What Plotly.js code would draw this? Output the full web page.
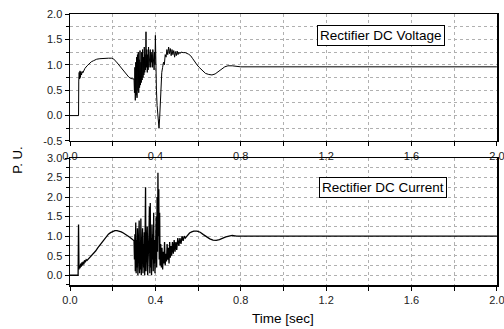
<!DOCTYPE html>
<html><head><meta charset="utf-8">
<script src="https://cdn.plot.ly/plotly-3.0.1.min.js"></script>
<style>html,body{margin:0;padding:0;background:#fff}#chart{width:504px;height:329px}</style>
</head><body><div id="chart"></div>
<script>
// Rectifier DC Voltage (top panel)
var timeV = [0,0.040,0.041,0.043,0.045,0.047,0.049,0.051,0.054,0.057,0.060,0.065,0.070,0.080,0.090,0.100,0.110,0.125,0.140,0.160,0.180,0.195,0.205,0.215,0.225,0.235,0.245,0.255,0.265,0.275,0.285,0.295,0.300,
0.302,0.304,0.306,0.308,0.310,0.312,0.314,0.316,0.318,0.320,0.322,0.324,0.326,0.328,0.330,0.332,0.334,0.336,0.338,0.340,0.342,0.344,0.346,0.348,0.350,0.352,0.354,0.356,0.358,0.360,0.362,0.364,0.366,0.368,0.370,0.372,0.374,0.376,0.378,0.380,0.382,0.384,0.386,0.388,0.390,0.392,0.394,0.396,0.398,0.400,0.402,0.405,0.408,0.411,0.414,0.417,0.420,0.423,0.426,0.430,0.434,0.438,0.442,0.446,0.450,0.454,0.458,0.462,0.466,0.470,0.474,0.478,0.482,0.486,0.490,0.494,0.498,0.502,0.506,0.510,0.515,0.520,0.530,0.540,0.555,0.565,0.575,0.585,0.595,0.605,0.620,0.635,0.650,0.665,0.680,0.695,0.710,0.725,0.740,0.760,0.800,1.000,1.500,2.000];
var voltage = [0,0,0.68,0.85,0.72,0.88,0.75,0.86,0.80,0.87,0.84,0.90,0.93,0.98,1.03,1.06,1.08,1.11,1.12,1.13,1.13,1.13,1.11,1.07,1.02,0.97,0.91,0.85,0.80,0.76,0.73,0.72,0.72,
0.45,0.95,0.30,1.05,0.40,1.15,0.35,1.20,0.50,1.25,0.45,1.10,0.55,1.28,0.60,1.05,0.65,1.25,0.70,1.30,0.75,1.15,0.80,1.35,0.85,1.20,0.90,1.65,0.95,1.30,0.85,1.20,0.90,1.35,0.95,1.15,1.00,1.30,0.95,1.25,1.05,1.20,0.95,1.30,1.05,1.15,0.90,1.25,1.00,1.58,0.95,0.50,0.20,0.00,-0.15,-0.25,-0.05,0.35,0.60,0.85,0.95,1.05,1.00,1.20,1.15,1.30,1.20,1.35,1.22,1.32,1.18,1.30,1.20,1.28,1.15,1.26,1.18,1.27,1.20,1.25,1.22,1.25,1.24,1.24,1.21,1.18,1.12,1.05,1.00,0.95,0.88,0.83,0.81,0.80,0.82,0.87,0.92,0.96,0.98,0.98,0.96,0.96,0.96,0.96];

// Rectifier DC Current (bottom panel)
var timeI = [0,0.038,0.040,0.042,0.044,0.047,0.050,0.053,0.056,0.059,0.062,0.065,0.068,0.072,0.076,0.080,0.090,0.100,0.110,0.120,0.130,0.140,0.150,0.160,0.170,0.180,0.190,0.200,0.210,0.220,0.230,0.240,0.250,0.260,0.270,0.280,0.290,0.300,
0.302,0.304,0.306,0.308,0.310,0.312,0.314,0.316,0.318,0.320,0.322,0.324,0.326,0.328,0.330,0.332,0.334,0.336,0.338,0.340,0.342,0.344,0.346,0.348,0.350,0.352,0.354,0.356,0.358,0.360,0.362,0.364,0.366,0.368,0.370,0.372,0.374,0.376,0.378,0.380,0.382,0.384,0.386,0.388,0.390,0.392,0.394,0.396,0.398,0.400,0.402,0.404,0.406,0.408,0.410,0.412,0.414,0.416,0.418,0.420,0.422,0.425,0.428,0.431,0.434,0.437,0.440,0.443,0.446,0.449,0.452,0.455,0.458,0.461,0.464,0.467,0.470,0.473,0.476,0.480,0.484,0.488,0.492,0.496,0.500,0.505,0.510,0.515,0.520,0.525,0.530,0.535,0.540,0.550,0.560,0.570,0.580,0.595,0.610,0.625,0.640,0.655,0.670,0.685,0.700,0.715,0.730,0.745,0.760,0.780,1.000,1.500,2.000];
var current = [0,0,1.30,0.15,0.25,0.18,0.30,0.22,0.33,0.25,0.35,0.28,0.38,0.33,0.40,0.38,0.44,0.50,0.55,0.62,0.70,0.77,0.85,0.92,0.99,1.05,1.09,1.12,1.14,1.14,1.13,1.11,1.08,1.05,1.01,0.97,0.93,0.88,
0.40,1.05,0.10,1.35,0.05,0.90,0.20,1.20,0.00,1.00,0.30,1.40,0.05,0.85,0.15,1.45,0.00,0.95,0.35,1.20,0.05,0.80,0.20,1.10,0.00,0.70,2.25,0.10,0.90,0.30,1.25,0.00,0.85,0.25,1.10,1.75,0.05,1.85,0.20,0.95,0.00,1.30,0.40,1.05,0.10,1.60,0.30,0.90,0.05,1.20,0.35,1.50,0.20,2.00,0.60,2.62,1.00,2.20,0.40,1.60,0.25,0.80,0.20,0.70,0.15,0.60,0.30,0.85,0.25,0.55,0.35,0.80,0.40,0.70,0.30,0.85,0.45,0.75,0.50,0.85,0.55,0.90,0.60,0.85,0.65,0.95,0.75,0.95,0.80,1.00,0.88,1.00,0.95,1.03,1.08,1.11,1.13,1.13,1.10,1.04,0.98,0.93,0.90,0.89,0.91,0.95,0.98,1.00,1.02,1.00,1.00,1.00,1.00];

var xTicks = [0, 0.4, 0.8, 1.2, 1.6, 2.0];
var xTickText = ['0.0','0.4','0.8','1.2','1.6','2.0'];
var yTicksTop = [-0.5, 0, 0.5, 1.0, 1.5, 2.0];
var yTickTextTop = ['-0.5','0.0','0.5','1.0','1.5','2.0'];
var yTicksBot = [0, 0.5, 1.0, 1.5, 2.0, 2.5, 3.0];
var yTickTextBot = ['0.0','0.5','1.0','1.5','2.0','2.5','3.0'];
var labels = ['Rectifier DC Voltage','Rectifier DC Current'];

var traces = [
  {x: timeV, y: voltage, xaxis:'x', yaxis:'y', type:'scatter', mode:'lines', line:{color:'#000', width:1}, showlegend:false, hoverinfo:'skip'},
  {x: timeI, y: current, xaxis:'x2', yaxis:'y2', type:'scatter', mode:'lines', line:{color:'#000', width:1.3}, showlegend:false, hoverinfo:'skip'}
];

var tickFont = {family:'Arial, Liberation Sans, sans-serif', size:11, color:'#222'};
function xax(anchor){
  return {anchor:anchor, range:[0,2.0005], tickvals:xTicks, ticktext:xTickText, ticks:'outside', ticklen:4, tickwidth:1, tickcolor:'#000',
    showline:true, linecolor:'#000', linewidth:1.5, mirror:true, zeroline:false, ticklabeloverflow:'allow',
    showgrid:true, gridcolor:'#b0b0b0', griddash:'dot', gridwidth:1, tickfont:tickFont,
    minor:{dtick:0.2, ticks:'outside', ticklen:4, tickcolor:'#000', showgrid:true, gridcolor:'#b0b0b0', griddash:'dot', gridwidth:1}};
}
function yax(anchor, range, dom, tv, tt){
  return {anchor:anchor, domain:dom, range:range, tickvals:tv, ticktext:tt, ticks:'outside', ticklen:4, tickwidth:1, tickcolor:'#000',
    showline:true, linecolor:'#000', linewidth:1.5, mirror:true, zeroline:false, ticklabeloverflow:'allow',
    showgrid:true, gridcolor:'#b0b0b0', griddash:'dot', gridwidth:1, tickfont:tickFont,
    minor:{dtick:0.25, ticks:'outside', ticklen:3, tickcolor:'#000', showgrid:true, gridcolor:'#b0b0b0', griddash:'dot', gridwidth:1}};
}

var annFont = {family:'Arial, Liberation Sans, sans-serif', size:13.5, color:'#000'};
var layout = {
  width:504, height:329,
  margin:{l:70, r:7, t:14, b:44},
  paper_bgcolor:'#fff', plot_bgcolor:'#fff',
  xaxis: xax('y'),
  yaxis: yax('x', [-0.5, 2.0], [0.5314, 1], yTicksTop, yTickTextTop),
  xaxis2: xax('y2'),
  yaxis2: yax('x2', [-0.25, 3.0], [0, 0.4686], yTicksBot, yTickTextBot),
  annotations:[
    {xref:'paper', yref:'paper', x:0.728, y:0.9225, xanchor:'center', yanchor:'middle', text:labels[0], showarrow:false, font:annFont,
     bgcolor:'#fff', bordercolor:'#000', borderwidth:1, borderpad:2},
    {xref:'paper', yref:'paper', x:0.733, y:0.358, xanchor:'center', yanchor:'middle', text:labels[1], showarrow:false, font:annFont,
     bgcolor:'#fff', bordercolor:'#000', borderwidth:1, borderpad:2},
    {xref:'paper', yref:'paper', x:-0.125, y:0.461, xanchor:'center', yanchor:'middle', text:'P. U.', textangle:-90, showarrow:false, font:{family:'Arial, Liberation Sans, sans-serif', size:13, color:'#000'}},
    {xref:'paper', yref:'paper', x:0.498, y:-0.122, xanchor:'center', yanchor:'middle', text:'Time [sec]', showarrow:false, font:annFont}
  ]
};

Plotly.newPlot('chart', traces, layout, {staticPlot:true, displayModeBar:false});
</script></body></html>
